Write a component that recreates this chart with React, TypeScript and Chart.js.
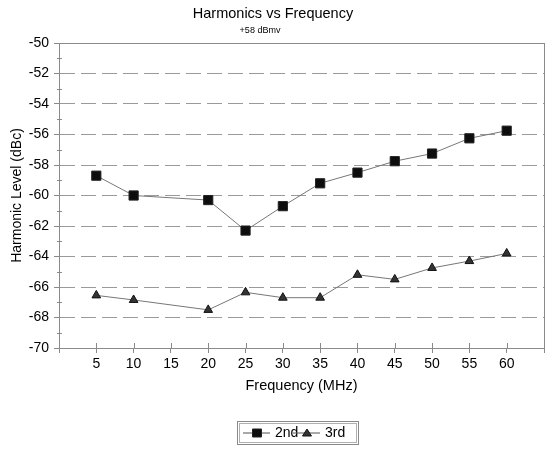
import React, { useEffect, useRef } from "react";
import { Chart, registerables } from "chart.js";

Chart.register(...registerables);

const chartTitle = "Harmonics vs Frequency";
const chartSubtitle = "+58 dBmv";
const xAxisTitle = "Frequency (MHz)";
const yAxisTitle = "Harmonic Level (dBc)";
const frequencies = [5, 10, 20, 25, 30, 35, 40, 45, 50, 55, 60];
const second = [-58.7, -60.0, -60.3, -62.3, -60.7, -59.2, -58.5, -57.75, -57.25, -56.25, -55.75];
const third = [-66.55, -66.85, -67.5, -66.35, -66.7, -66.7, -65.2, -65.5, -64.75, -64.3, -63.8];
const seriesLabels = ["2nd", "3rd"];
const xMin = 0, xMax = 65, xStep = 5;
const yMin = -70, yMax = -50, yStep = 2;

const FONT = "'Liberation Sans', Arial, Helvetica, sans-serif";
const AXIS = "#8a8a8a";
const GRID = "#9a9a9a";

const decorPlugin = {
  id: "decor",
  afterDraw(chart: any) {
    const { ctx, chartArea } = chart;
    const xs = chart.scales.x;
    const ys = chart.scales.y;
    ctx.save();
    // frame top & right
    ctx.strokeStyle = AXIS;
    ctx.lineWidth = 1;
    ctx.beginPath();
    ctx.moveTo(chartArea.left - 5, Math.round(chartArea.top) + 0.5);
    ctx.lineTo(chartArea.right, Math.round(chartArea.top) + 0.5);
    ctx.moveTo(Math.round(chartArea.right) + 0.5, chartArea.top);
    ctx.lineTo(Math.round(chartArea.right) + 0.5, chartArea.bottom + 5);
    ctx.stroke();
    // minor y ticks
    ctx.beginPath();
    for (let v = yMin + 1; v < yMax; v += 2) {
      const y = Math.round(ys.getPixelForValue(v)) + 0.5;
      ctx.moveTo(chartArea.left - 2, y);
      ctx.lineTo(chartArea.left + 3, y);
    }
    // x ticks above axis
    for (let v = xMin + xStep; v <= xMax; v += xStep) {
      const x = Math.round(xs.getPixelForValue(v)) + 0.5;
      ctx.moveTo(x, chartArea.bottom);
      ctx.lineTo(x, chartArea.bottom - 5);
    }
    ctx.stroke();

    // titles
    ctx.fillStyle = "#000";
    ctx.textAlign = "center";
    ctx.textBaseline = "alphabetic";
    ctx.font = `14.5px ${FONT}`;
    ctx.fillText(chartTitle, 273, 18);
    ctx.font = `9px ${FONT}`;
    ctx.fillText(chartSubtitle, 260, 33);

    // legend
    const bx = 237, by = 421, bw = 121, bh = 23;
    ctx.strokeStyle = "#8a8a8a";
    ctx.strokeRect(bx + 0.5, by + 0.5, bw, bh);
    ctx.strokeStyle = "#b0b0b0";
    ctx.strokeRect(bx + 2.5, by + 2.5, bw - 4, bh - 4);
    const cy = by + bh / 2 + 0.5;
    const items = chart.data.datasets.map((d: any, i: number) => ({
      label: d.label,
      style: d.pointStyle,
      bg: d.pointBackgroundColor,
      border: d.pointBorderColor,
      start: i === 0 ? 243 : 293,
    }));
    ctx.font = `14px ${FONT}`;
    ctx.textAlign = "left";
    ctx.textBaseline = "middle";
    items.forEach((it: any) => {
      ctx.strokeStyle = "#555";
      ctx.lineWidth = 1;
      ctx.beginPath();
      ctx.moveTo(it.start, cy);
      ctx.lineTo(it.start + 27, cy);
      ctx.stroke();
      ctx.fillStyle = it.bg;
      ctx.strokeStyle = it.border;
      const mx = it.start + 14;
      ctx.beginPath();
      if (it.style === "rect") {
        ctx.rect(mx - 4.5, cy - 4, 9, 8);
      } else {
        ctx.moveTo(mx, cy - 4);
        ctx.lineTo(mx + 4.5, cy + 3);
        ctx.lineTo(mx - 4.5, cy + 3);
        ctx.closePath();
      }
      ctx.fill();
      ctx.stroke();
      ctx.fillStyle = "#000";
      ctx.fillText(it.label, it.start + 32, cy + 0.5);
    });
    ctx.restore();
  },
};

export default function App() {
  const ref = useRef<HTMLCanvasElement | null>(null);
  useEffect(() => {
    if (!ref.current) return;
    const chart = new Chart(ref.current, {
      type: "line",
      data: {
        datasets: [
          {
            label: seriesLabels[0],
            data: frequencies.map((f, i) => ({ x: f, y: second[i] })),
            borderColor: "#777",
            borderWidth: 1,
            pointStyle: "rect",
            pointRadius: 6.5,
            pointBackgroundColor: "#0d0d0d",
            pointBorderColor: "#222",
            pointBorderWidth: 1,
          },
          {
            label: seriesLabels[1],
            data: frequencies.map((f, i) => ({ x: f, y: third[i] })),
            borderColor: "#777",
            borderWidth: 1,
            pointStyle: "triangle",
            pointRadius: 5,
            pointBackgroundColor: "#333",
            pointBorderColor: "#111",
            pointBorderWidth: 1,
          },
        ],
      },
      options: {
        animation: false,
        responsive: false,
        devicePixelRatio: 1,
        layout: { padding: { left: 0, right: 8, top: 43, bottom: 47 } },
        plugins: { legend: { display: false }, title: { display: false }, tooltip: { enabled: false } },
        scales: {
          x: {
            type: "linear",
            min: xMin,
            max: xMax,
            afterFit: (s: any) => { s.height = 60; },
            ticks: {
              stepSize: xStep,
              color: "#000",
              font: { family: FONT, size: 14 },
              padding: 3,
              maxRotation: 0,
              autoSkip: false,
              callback: (v: any) => (v === xMin || v === xMax ? "" : String(v)),
            },
            grid: { drawOnChartArea: false, drawTicks: true, tickLength: 5, tickColor: AXIS },
            border: { display: true, color: AXIS, width: 1 },
            title: { display: true, text: xAxisTitle, color: "#000", font: { family: FONT, size: 14.5 }, padding: { top: 0, bottom: 13 } },
          },
          y: {
            min: yMin,
            max: yMax,
            afterFit: (s: any) => { s.width = 59; },
            ticks: {
              stepSize: yStep,
              color: "#000",
              font: { family: FONT, size: 14 },
              padding: 5,
              callback: (v: any) => String(v),
            },
            grid: {
              drawOnChartArea: true,
              drawTicks: true,
              tickLength: 5,
              tickColor: AXIS,
              color: (c: any) => (c.tick && (c.tick.value === yMin || c.tick.value === yMax) ? "rgba(0,0,0,0)" : GRID),
            },
            border: { display: true, color: AXIS, width: 1, dash: [15, 6] },
            title: { display: true, text: yAxisTitle, color: "#000", font: { family: FONT, size: 14 }, padding: { top: 9, bottom: 0 } },
          },
        },
      },
      plugins: [decorPlugin],
    } as any);
    return () => chart.destroy();
  }, []);
  return (
    <div style={{ position: "absolute", left: 0, top: 0, width: 552, height: 455, background: "#fff" }}>
      <canvas ref={ref} width={552} height={455} style={{ width: 552, height: 455, display: "block" }} />
    </div>
  );
}
